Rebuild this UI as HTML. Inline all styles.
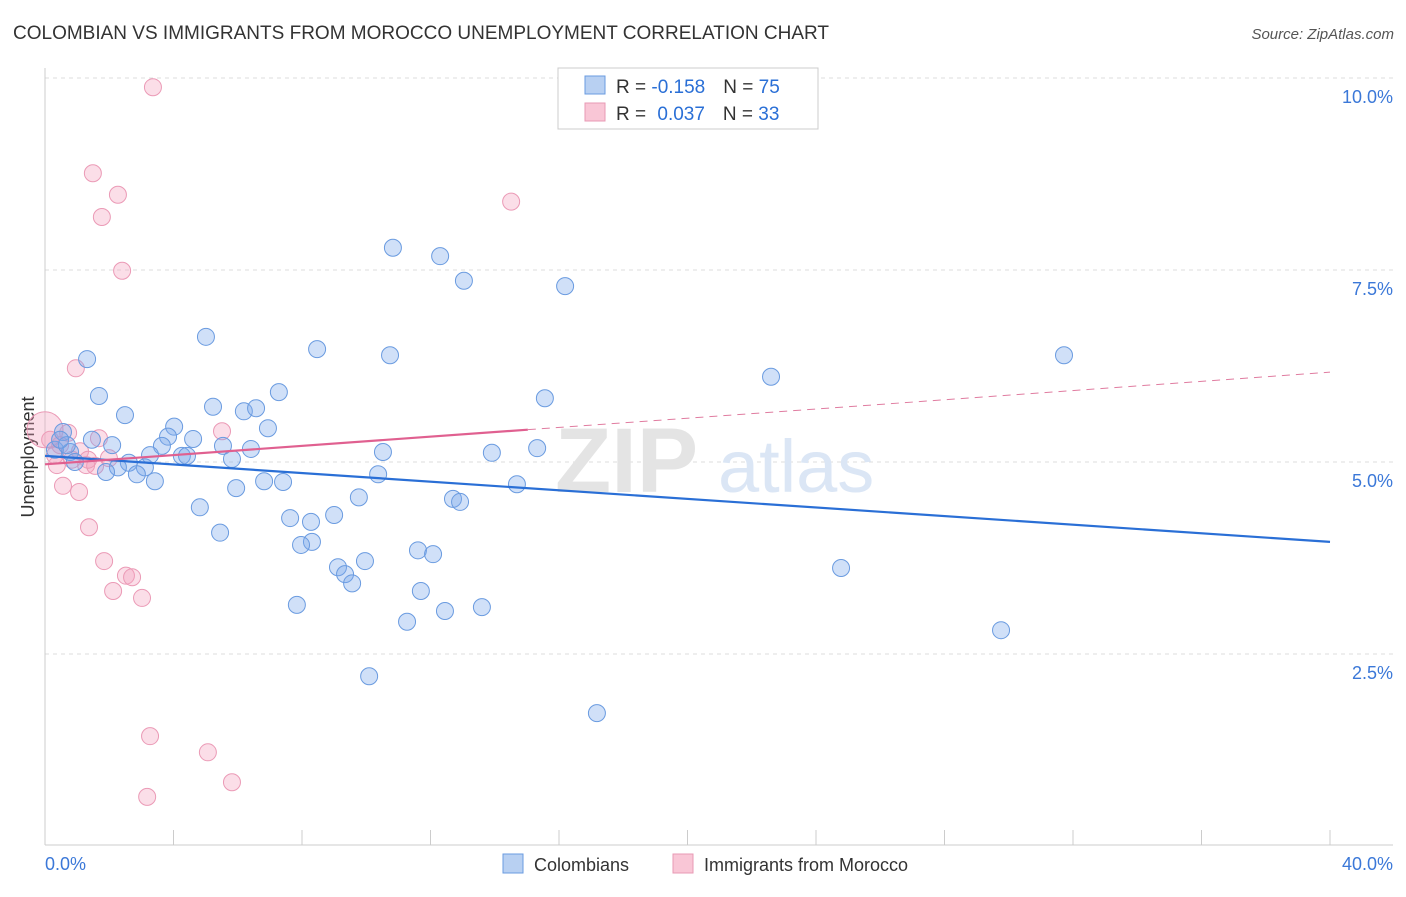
<!DOCTYPE html>
<html><head><meta charset="utf-8">
<style>
body{margin:0;background:#fff;font-family:"Liberation Sans",sans-serif;}
svg text{font-family:"Liberation Sans",sans-serif;}
</style></head>
<body>
<svg id="chart" width="1406" height="892" viewBox="0 0 1406 892" xmlns="http://www.w3.org/2000/svg">
<text x="13" y="39" font-size="19" fill="#333">COLOMBIAN VS IMMIGRANTS FROM MOROCCO UNEMPLOYMENT CORRELATION CHART</text>
<text x="1394" y="39" font-size="15" fill="#555" font-style="italic" text-anchor="end">Source: ZipAtlas.com</text>
<text transform="translate(34,457) rotate(-90)" font-size="18" fill="#333" text-anchor="middle">Unemployment</text>
<g id="grid"></g>
<g>
<text x="555" y="492" font-size="92" fill="#e4e4e4" font-family="Liberation Serif" font-weight="bold">ZIP</text>
<text x="718" y="492" font-size="74" fill="#dbe6f5">atlas</text>
</g>
<g id="axes"></g>
<g id="pinkPts"></g>
<g id="bluePts"></g>
<g id="lines"></g>
<g>
<rect x="558" y="68" width="260" height="61" fill="#fff" stroke="#ccc"/>
<rect x="585" y="76" width="20" height="18" fill="#b8d0f2" stroke="#6a9be0"/>
<rect x="585" y="103" width="20" height="18" fill="#f9c6d6" stroke="#e89ab4"/>
<text x="616" y="93" font-size="19" fill="#333">R = <tspan fill="#2a6fd6">-0.158</tspan><tspan dx="18">N = </tspan><tspan fill="#2a6fd6">75</tspan></text>
<text x="616" y="120" font-size="19" fill="#333">R = <tspan fill="#2a6fd6" dx="6">0.037</tspan><tspan dx="18">N = </tspan><tspan fill="#2a6fd6">33</tspan></text>
</g>
<g>
<rect x="503" y="854" width="20" height="19" fill="#b8d0f2" stroke="#6a9be0"/>
<text x="534" y="871" font-size="18" fill="#333">Colombians</text>
<rect x="673" y="854" width="20" height="19" fill="#f9c6d6" stroke="#e89ab4"/>
<text x="704" y="871" font-size="18" fill="#333">Immigrants from Morocco</text>
</g>
</svg>
<script>
const yTicks=[2.5,5.0,7.5,10.0];
const yTickLabels=["2.5%","5.0%","7.5%","10.0%"];
const xTickLabels=["0.0%","40.0%"];
const blueX=[10.83,12.30,13.04,16.19,5.01,8.47,10.74,1.31,22.60,31.72,1.68,15.56,5.23,6.19,6.57,7.28,2.49,4.02,6.94,0.56,1.46,3.83,4.61,2.09,3.64,5.54,6.41,15.32,10.52,13.91,4.26,4.42,3.27,5.82,0.31,0.78,0.68,2.61,3.11,2.27,1.90,2.86,3.42,10.37,6.82,7.41,5.95,14.69,9.77,12.70,12.92,4.82,9.00,7.63,8.28,5.45,8.31,7.97,11.61,12.08,9.96,9.12,9.34,9.56,24.78,11.70,7.84,13.60,12.45,11.27,29.76,10.09,17.18,0.47,0.93];
const blueY=[7.79,7.68,7.36,7.29,6.63,6.47,6.39,6.34,6.11,6.39,5.86,5.83,5.72,5.66,5.70,5.91,5.61,5.46,5.44,5.39,5.29,5.33,5.30,5.22,5.21,5.21,5.17,5.18,5.13,5.12,5.08,5.08,5.09,5.04,5.16,5.13,5.22,4.99,4.93,4.93,4.87,4.84,4.75,4.84,4.75,4.74,4.66,4.71,4.54,4.52,4.48,4.41,4.31,4.27,4.22,4.08,3.96,3.92,3.85,3.80,3.71,3.63,3.54,3.42,3.62,3.32,3.14,3.11,3.06,2.92,2.81,2.21,1.73,5.29,5.00];
const pinkX=[3.36,1.49,2.27,1.77,14.51,2.40,0.96,5.51,1.68,0.72,1.09,1.99,0.31,0.37,1.28,1.56,0.56,1.06,1.37,1.84,2.52,2.71,2.12,3.02,3.27,5.07,3.18,5.82,0.16,0.84,0.47,1.34,0.0];
const pinkY=[9.88,8.76,8.48,8.19,8.39,7.49,6.22,5.40,5.31,5.38,5.14,5.05,5.09,4.96,4.96,4.95,4.69,4.61,4.15,3.71,3.52,3.50,3.32,3.23,1.43,1.22,0.64,0.83,5.29,5.03,5.22,5.03,5.42];
const blueTrend=[5.08,3.96];
const pinkTrend=[4.97,6.17];
const pinkSolidEnd=15.03;
const X0=45,X1=1330,Y0=846,PXY=76.8;
const sx=v=>X0+(X1-X0)*v/40;
const sy=v=>Y0-v*PXY;
const NS="http://www.w3.org/2000/svg";
function mk(tag,attrs,parent){const e=document.createElementNS(NS,tag);for(const k in attrs)e.setAttribute(k,attrs[k]);parent.appendChild(e);return e;}
const grid=document.getElementById('grid');
yTicks.forEach((t,i)=>{
  const l=mk('line',{x1:X0,x2:1393,y1:sy(t),y2:sy(t),stroke:'#ddd','stroke-dasharray':'4,4'},grid);
  
  
  const tx=mk('text',{x:1393,y:sy(t)+25,'font-size':18,fill:'#3b78d8','text-anchor':'end'},grid);
  tx.textContent=yTickLabels[i];
  
  
});
const axes=document.getElementById('axes');
mk('line',{x1:X0,x2:X0,y1:68,y2:845,stroke:'#ccc'},axes);
mk('line',{x1:X0,x2:1393,y1:845,y2:845,stroke:'#ccc'},axes);
for(let i=0;i<=10;i++){const x=sx(i*4);const t=mk('line',{x1:x,x2:x,y1:830,y2:845,stroke:'#ccc'},axes);
  
  }
const xl0=mk('text',{x:45,y:870,'font-size':18,fill:'#3b78d8'},axes);xl0.textContent=xTickLabels[0];


const xl1=mk('text',{x:1393,y:870,'font-size':18,fill:'#3b78d8','text-anchor':'end'},axes);xl1.textContent=xTickLabels[1];


const bp=document.getElementById('bluePts'),pp=document.getElementById('pinkPts');
pinkX.forEach((v,i)=>{const r=(v===0)?18:8.5;const c=mk('circle',{cx:sx(v),cy:sy(pinkY[i]),r:r,fill:'rgba(244,160,188,0.35)',stroke:'#eb9ab6','stroke-width':1},pp);
  
  });
blueX.forEach((v,i)=>{const c=mk('circle',{cx:sx(v),cy:sy(blueY[i]),r:8.5,fill:'rgba(120,165,235,0.35)',stroke:'#6a9be0','stroke-width':1},bp);
  
  });
const ln=document.getElementById('lines');
const bl=mk('line',{x1:sx(0),y1:sy(blueTrend[0]),x2:sx(40),y2:sy(blueTrend[1]),stroke:'#2a6fd6','stroke-width':2.2},ln);


const pAt=x=>pinkTrend[0]+(pinkTrend[1]-pinkTrend[0])*x/40;
const pl=mk('line',{x1:sx(0),y1:sy(pAt(0)),x2:sx(pinkSolidEnd),y2:sy(pAt(pinkSolidEnd)),stroke:'#e06090','stroke-width':2.2},ln);


const pd=mk('line',{x1:sx(pinkSolidEnd),y1:sy(pAt(pinkSolidEnd)),x2:sx(40),y2:sy(pAt(40)),stroke:'#e07ca0','stroke-width':1,'stroke-dasharray':'8,6'},ln);


</script>
</body></html>
